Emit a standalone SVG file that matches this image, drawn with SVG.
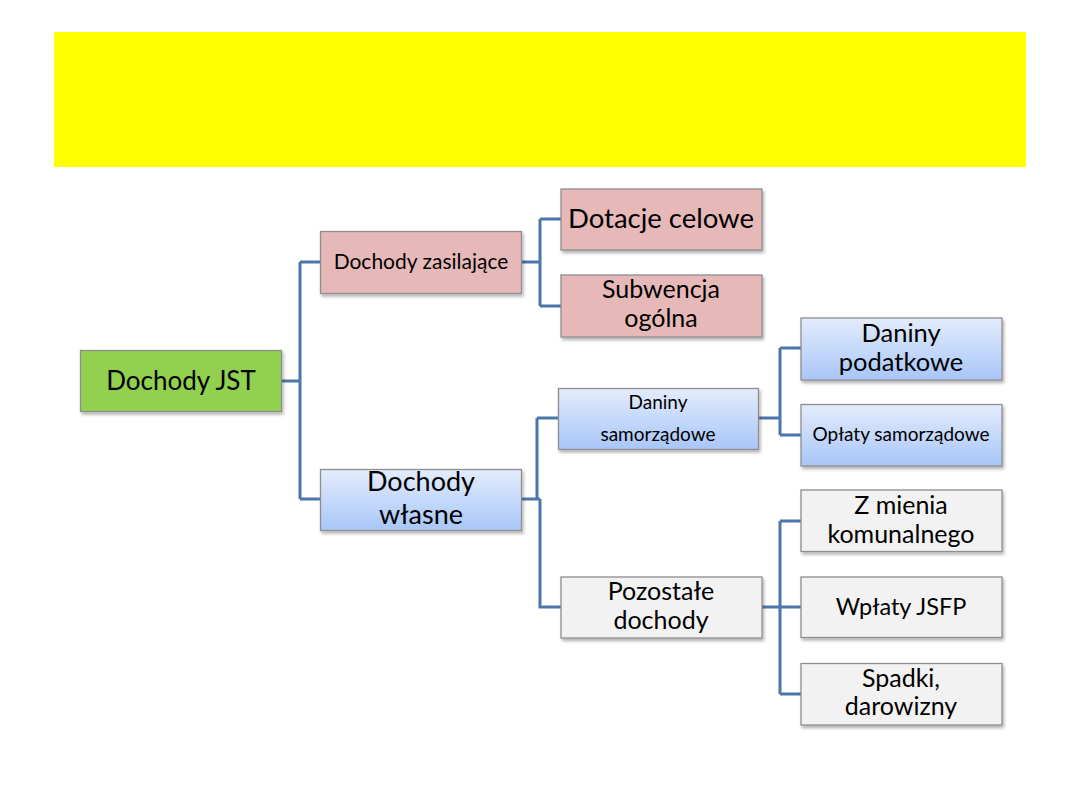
<svg xmlns="http://www.w3.org/2000/svg" width="1080" height="810" viewBox="0 0 1080 810">
<defs>
<linearGradient id="blue" x1="0" y1="0" x2="0" y2="1">
<stop offset="0" stop-color="#e3ecfc"/>
<stop offset="1" stop-color="#a8c6f8"/>
</linearGradient>
<filter id="sh" x="-5%" y="-10%" width="115%" height="130%">
<feDropShadow dx="1.5" dy="2.5" stdDeviation="1.5" flood-color="#000" flood-opacity="0.3"/>
</filter>
<style>
.box{stroke:#8e8e8e;stroke-width:1.3;filter:url(#sh)}
.pink{fill:#e6b9b8}
.green{fill:#92d050}
.gray{fill:#f2f2f2}
.blueb{fill:url(#blue)}
text{font-family:Lato,"Open Sans","Liberation Sans",sans-serif;fill:#000;text-anchor:middle}
.c{fill:none;stroke:#4a76aa;stroke-width:3}
</style>
</defs>
<rect x="0" y="0" width="1080" height="810" fill="#fff"/>
<rect id="banner" x="54" y="32" width="972" height="135" fill="#ffff00"/>
<g id="connectors">
<path class="c" d="M281,381 H300 M300,262 V499 M300,262 H321 M300,499 H321"/>
<path class="c" d="M521,262 H540 M540,219 V306 M540,219 H561 M540,306 H561"/>
<path class="c" d="M521,499 H540 M537,418 V499 M537,418 H558 M540,499 V607 H561"/>
<path class="c" d="M759,418 H780 M780,348 V435 M780,348 H801 M780,435 H801"/>
<path class="c" d="M762,607 H780 M780,521 V694 M780,521 H801 M780,607 H801 M780,694 H801"/>
</g>
<g id="n-jst"><rect class="box green" x="80.5" y="350.5" width="201" height="61"/><text x="181" y="390" font-size="26">Dochody JST</text></g>
<g id="n-zas"><rect class="box pink" x="320.5" y="231.5" width="201" height="62"/><text x="421" y="269" font-size="21">Dochody zasilające</text></g>
<g id="n-dot"><rect class="box pink" x="561" y="189" width="201" height="61"/><text x="661" y="228" font-size="27.5">Dotacje celowe</text></g>
<g id="n-sub"><rect class="box pink" x="561" y="275" width="201" height="62"/><text x="661" y="298" font-size="25">Subwencja</text><text x="661" y="327" font-size="25">ogólna</text></g>
<g id="n-wl"><rect class="box blueb" x="320.5" y="469.5" width="201" height="61"/><text x="421" y="491" font-size="27">Dochody</text><text x="421" y="524" font-size="27">własne</text></g>
<g id="n-dsam"><rect class="box blueb" x="558.5" y="388.5" width="200" height="61"/><text x="658" y="409" font-size="19">Daniny</text><text x="658" y="441" font-size="19">samorządowe</text></g>
<g id="n-pod"><rect class="box blueb" x="801" y="318" width="201" height="62"/><text x="901" y="342" font-size="25.5">Daniny</text><text x="901" y="371" font-size="25.5">podatkowe</text></g>
<g id="n-opl"><rect class="box blueb" x="801" y="404.5" width="201" height="61.5"/><text x="901" y="441" font-size="19">Opłaty samorządowe</text></g>
<g id="n-poz"><rect class="box gray" x="561" y="577" width="201" height="61"/><text x="661" y="600" font-size="25">Pozostałe</text><text x="661" y="629" font-size="25">dochody</text></g>
<g id="n-zm"><rect class="box gray" x="801" y="490" width="201" height="61.5"/><text x="901" y="514" font-size="25">Z mienia</text><text x="901" y="543" font-size="25">komunalnego</text></g>
<g id="n-wp"><rect class="box gray" x="801" y="577" width="201" height="60.5"/><text x="901" y="615" font-size="23.5">Wpłaty JSFP</text></g>
<g id="n-sp"><rect class="box gray" x="801" y="663.5" width="201" height="61.5"/><text x="901" y="687" font-size="25">Spadki,</text><text x="901" y="715" font-size="25">darowizny</text></g>
</svg>
